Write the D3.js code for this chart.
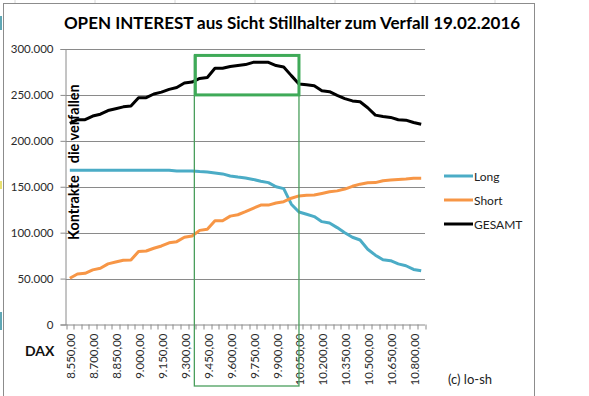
<!DOCTYPE html>
<html>
<head>
<meta charset="utf-8">
<script src="https://cdn.jsdelivr.net/npm/d3@7"></script>
<style>
  body { margin: 0; background: #fff; }
  svg { display: block; font-family: Lato, "Open Sans", sans-serif; }
</style>
</head>
<body>
<div id="chart"></div>
<script>
// strikes (DAX) for 19.02.2016
let strikes = d3.range(47).map(i => 8550 + i * 50);

// open interest, contracts
let longValues = [
  168000, 168000, 168000, 168000, 168000, 168000, 168000, 168000, 168000, 168000,
  168000, 168000, 168000, 168000, 167200, 167200, 167200, 166500, 166000, 165000,
  164000, 161700, 160500, 159500, 158000, 156000, 154500, 150000, 148000, 131000,
  122500, 120000, 117500, 112000, 110500, 105500, 100000, 95000, 92000, 82000,
  75500, 70500, 69500, 66000, 64000, 60000, 58600
];
let shortValues = [
  50300, 55000, 55700, 59500, 61200, 66000, 68000, 70000, 70200, 79500,
  80000, 83000, 85500, 89000, 90200, 95000, 96400, 102500, 103700, 113000,
  113000, 118000, 119500, 122800, 126500, 130000, 130000, 132300, 133700, 137500,
  140000, 140700, 141000, 142700, 144500, 145500, 147500, 150500, 152800, 154300,
  154500, 156600, 157300, 158000, 158500, 159200, 159200
];
let totalValues = [
  219000, 223000, 223000, 227000, 229000, 233000, 235000, 237000, 238000, 247000,
  247000, 251000, 253000, 256000, 258000, 263000, 264000, 268000, 269000, 279000,
  279000, 281000, 282000, 283000, 285500, 285500, 285500, 282000, 280500, 271000,
  262000, 261000, 260000, 254500, 253500, 249500, 246000, 243500, 242500, 236000,
  228000, 226500, 225500, 223000, 222500, 220000, 218000
];
let yTicks = [0, 50000, 100000, 150000, 200000, 250000, 300000];

let seriesNames = ["Long", "Short", "GESAMT"];
let seriesColors = ["#4BACC6", "#F79646", "#000000"];

// highlighted strike zone
let zoneFrom = 9400, zoneTo = 10050;
let zoneLow = 250000, zoneHigh = 293000;

let svgWidth = 589;
let svgHeight = 396;

let margin = { top: 49, left: 65.5, right: 164, bottom: 71.5 };
let width = svgWidth - margin.left - margin.right;
let height = svgHeight - margin.top - margin.bottom;

let svg = d3.select("#chart")
  .append("svg")
  .attr("width", svgWidth)
  .attr("height", svgHeight);

// spreadsheet bits around the chart object
[15, 95, 175, 255, 335, 415, 495].forEach(function(gx) {
  svg.append("line")
    .attr("x1", gx).attr("x2", gx).attr("y1", 0).attr("y2", 3)
    .attr("stroke", "#d8d8d8");
});
svg.append("rect").attr("x", 0).attr("y", 16).attr("width", 2).attr("height", 14).attr("fill", "#5fa7b5");
svg.append("rect").attr("x", 0).attr("y", 181).attr("width", 2).attr("height", 8).attr("fill", "#e8e070");
svg.append("rect").attr("x", 0).attr("y", 312).attr("width", 2).attr("height", 18).attr("fill", "#5fa7b5");

// chart border
svg.append("rect")
  .attr("x", 3.5).attr("y", 3.5)
  .attr("width", 531).attr("height", 400)
  .attr("fill", "#fff")
  .attr("stroke", "#8c8c8c");

let chartGroup = svg.append("g")
  .attr("transform", `translate(${margin.left}, ${margin.top})`);

let xScale = d3.scaleBand()
  .domain(strikes)
  .range([0.5, width]);

let yScale = d3.scaleLinear()
  .domain([0, 300000])
  .range([height, 0]);

let deFormat = d3.formatLocale({ decimal: ",", thousands: ".", grouping: [3], currency: ["", "€"] });
let fmtY = deFormat.format(",.0f");
let fmtX = deFormat.format(",.2f");

// gridlines
chartGroup.append("g")
  .selectAll("line")
  .data(yTicks.slice(1))
  .enter()
  .append("line")
  .attr("x1", 0)
  .attr("x2", width)
  .attr("y1", d => Math.round(yScale(d)) + 0.5)
  .attr("y2", d => Math.round(yScale(d)) + 0.5)
  .attr("stroke", "#8a8a8a");

// y axis
let leftAxis = d3.axisLeft(yScale)
  .tickValues(yTicks)
  .tickFormat(fmtY)
  .tickSize(5)
  .tickPadding(7);

let yAxis = chartGroup.append("g").call(leftAxis);
yAxis.select(".domain").attr("stroke", "#8a8a8a");
yAxis.selectAll(".tick line").attr("stroke", "#8a8a8a");
yAxis.selectAll("text")
  .attr("font-size", "11.5px")
  .attr("font-family", "Lato")
  .attr("fill", "#2a2a2a");

// x axis: ticks between categories
let xAxis = chartGroup.append("g")
  .attr("transform", `translate(0, ${height})`);
xAxis.append("line")
  .attr("x1", 0).attr("x2", width)
  .attr("y1", 0.5).attr("y2", 0.5)
  .attr("stroke", "#8a8a8a");
xAxis.selectAll(".tickmark")
  .data(strikes.concat([null]))
  .enter()
  .append("line")
  .attr("class", "tickmark")
  .attr("x1", (d, i) => Math.round(xScale.range()[0] + i * xScale.step()) + 0.5)
  .attr("x2", (d, i) => Math.round(xScale.range()[0] + i * xScale.step()) + 0.5)
  .attr("y1", 0)
  .attr("y2", 5)
  .attr("stroke", "#8a8a8a");

xAxis.selectAll(".xlabel")
  .data(strikes.filter((d, i) => i % 3 === 0))
  .enter()
  .append("text")
  .attr("class", "xlabel")
  .attr("transform", d => `translate(${xScale(d) + xScale.bandwidth() / 2 + 5.5}, 9) rotate(-90)`)
  .attr("text-anchor", "end")
  .attr("font-size", "11.5px")
  .attr("fill", "#2a2a2a")
  .text(d => fmtX(d));

// lines
let seriesData = [longValues, shortValues, totalValues];
let line = d3.line()
  .x((d, i) => xScale(strikes[i]) + xScale.bandwidth() / 2)
  .y(d => yScale(d));

chartGroup.append("g")
  .selectAll("path")
  .data(seriesData)
  .enter()
  .append("path")
  .attr("d", d => line(d))
  .attr("fill", "none")
  .attr("stroke", (d, i) => seriesColors[i])
  .attr("stroke-width", 3)
  .attr("stroke-linejoin", "round");

// y axis title (inside the plot)
let yTitle = chartGroup.append("text")
  .attr("transform", `translate(13.5, ${yScale(92000)}) rotate(-90)`)
  .attr("font-size", "14.5px")
  .attr("font-weight", "bold")
  .attr("fill", "#000");
yTitle.append("tspan").text("Kontrakte");
yTitle.append("tspan").attr("dx", 12).text("die verfallen");

// highlight boxes
let zoneLeft = xScale(zoneFrom) - 1.5;
let zoneRight = xScale(zoneTo) + xScale.bandwidth() / 2;
chartGroup.append("rect")
  .attr("x", zoneLeft)
  .attr("y", yScale(zoneHigh))
  .attr("width", zoneRight - zoneLeft)
  .attr("height", 386 - margin.top - yScale(zoneHigh))
  .attr("fill", "none")
  .attr("stroke", "#4a9e5c")
  .attr("stroke-width", 1.3);
chartGroup.append("rect")
  .attr("x", zoneLeft + 1)
  .attr("y", yScale(zoneHigh))
  .attr("width", zoneRight - zoneLeft - 1)
  .attr("height", yScale(zoneLow) - yScale(zoneHigh))
  .attr("fill", "none")
  .attr("stroke", "#3faa58")
  .attr("stroke-width", 3);

// legend
let legend = svg.append("g")
  .attr("transform", "translate(444, 176)");
seriesNames.forEach(function(name, i) {
  legend.append("line")
    .attr("x1", 0).attr("x2", 29)
    .attr("y1", i * 24).attr("y2", i * 24)
    .attr("stroke", seriesColors[i])
    .attr("stroke-width", 3);
  legend.append("text")
    .attr("x", 30)
    .attr("y", i * 24 + 4.5)
    .attr("font-size", "12px")
    .attr("fill", "#222")
    .text(name);
});

// title and other texts
svg.append("text")
  .attr("x", 292)
  .attr("y", 29)
  .attr("text-anchor", "middle")
  .attr("font-size", "17px")
  .attr("font-weight", "bold")
  .attr("fill", "#000")
  .text("OPEN INTEREST aus Sicht Stillhalter zum Verfall 19.02.2016");

svg.append("text")
  .attr("x", 25)
  .attr("y", 356)
  .attr("font-size", "14px")
  .attr("font-weight", "bold")
  .attr("fill", "#111")
  .text("DAX");

svg.append("text")
  .attr("x", 448)
  .attr("y", 384)
  .attr("font-size", "13px")
  .attr("fill", "#222")
  .text("(c) lo-sh");
</script>
</body>
</html>
